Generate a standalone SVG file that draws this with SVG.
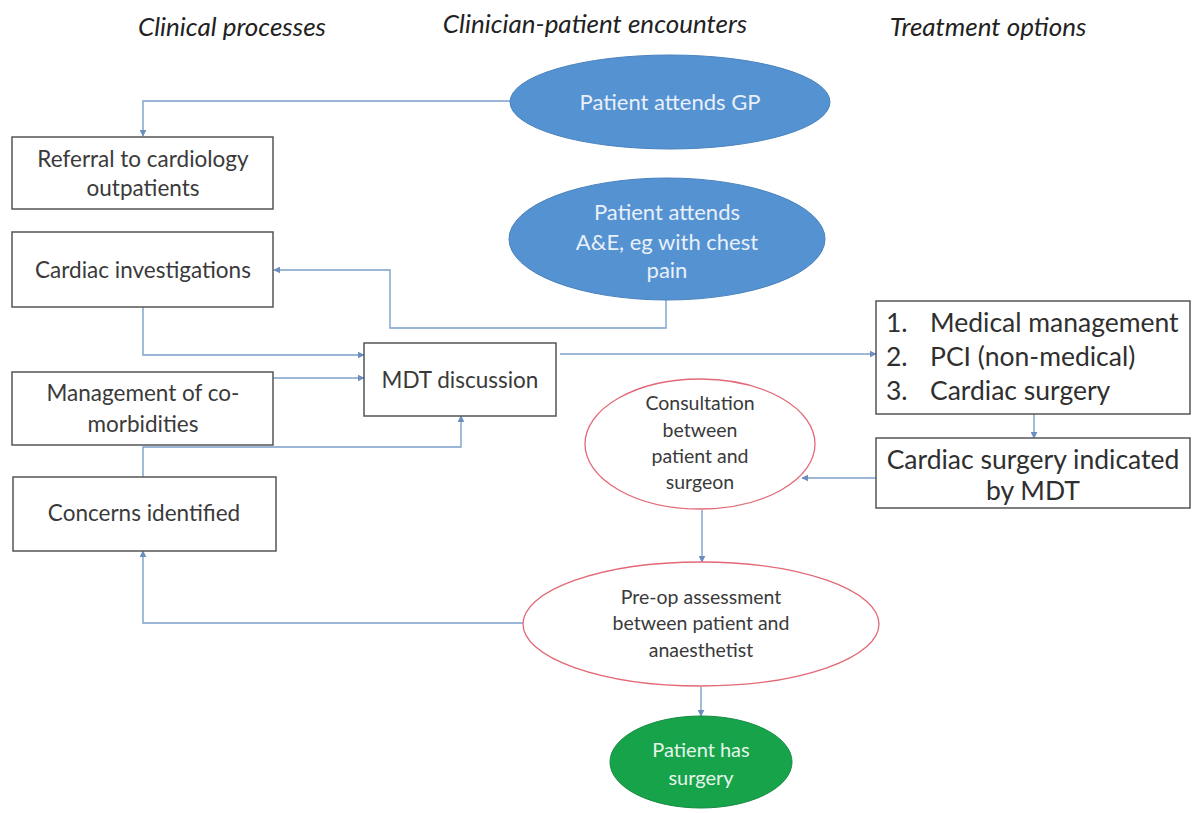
<svg xmlns="http://www.w3.org/2000/svg" width="1192" height="813" viewBox="0 0 1192 813">
  <defs>
    <marker id="arrow" viewBox="0 0 10 10" refX="9" refY="5" markerWidth="7" markerHeight="7" markerUnits="userSpaceOnUse" orient="auto">
      <path d="M0,0 L10,5 L0,10 z" fill="#6a8fbf"/>
    </marker>
    <style>
      .hdr { font-family: Lato, "Open Sans", sans-serif; font-style: italic; font-size: 26px; fill: #222; text-anchor: middle; }
      .box { fill: #fff; stroke: #555; stroke-width: 1.5; }
      .txt { font-family: Lato, "Open Sans", sans-serif; font-size: 22.5px; fill: #3a3a3a; text-anchor: middle; }
      .big { font-family: Lato, "Open Sans", sans-serif; font-size: 26.5px; fill: #2f2f2f; }
      .sm { font-family: Lato, "Open Sans", sans-serif; font-size: 19.5px; fill: #3a3a3a; text-anchor: middle; }
      .blue { fill: #5592d2; stroke: #4a82bd; stroke-width: 1; }
      .red { fill: #fff; stroke: #e36877; stroke-width: 1.3; }
      .green { fill: #16a34a; stroke: #138a3f; stroke-width: 1; }
      .light { font-family: Lato, "Open Sans", sans-serif; font-size: 22px; fill: #e9f0f9; text-anchor: middle; }
      .lightg { font-family: Lato, "Open Sans", sans-serif; font-size: 20px; fill: #e6f6ea; text-anchor: middle; }
      .conn { fill: none; stroke: #7ba0cc; stroke-width: 1.4; }
    </style>
  </defs>

  <rect width="1192" height="813" fill="#fff"/>

  <!-- column headings -->
  <text class="hdr" x="232" y="36">Clinical processes</text>
  <text class="hdr" x="595" y="33">Clinician-patient encounters</text>
  <text class="hdr" x="988" y="36">Treatment options</text>

  <!-- connectors -->
  <g id="connectors">
    <path class="conn" d="M510,101 H143 V136" marker-end="url(#arrow)"/>
    <path class="conn" d="M666,300 V328 H390 V270 H274" marker-end="url(#arrow)"/>
    <path class="conn" d="M143,307 V355 H364" marker-end="url(#arrow)"/>
    <path class="conn" d="M273,378 H364" marker-end="url(#arrow)"/>
    <path class="conn" d="M143,477 V447 H461 V416" marker-end="url(#arrow)"/>
    <path class="conn" d="M560,354 H876" marker-end="url(#arrow)"/>
    <path class="conn" d="M1034,414 V438" marker-end="url(#arrow)"/>
    <path class="conn" d="M876,478 H802" marker-end="url(#arrow)"/>
    <path class="conn" d="M702,510 V562" marker-end="url(#arrow)"/>
    <path class="conn" d="M523,623 H143 V551" marker-end="url(#arrow)"/>
    <path class="conn" d="M701,687 V716" marker-end="url(#arrow)"/>
  </g>

  <!-- clinical process boxes -->
  <g id="referral">
    <rect class="box" x="12" y="137" width="261" height="72"/>
    <text class="txt" x="143" y="167">Referral  to cardiology</text>
    <text class="txt" x="143" y="196">outpatients</text>
  </g>
  <g id="investigations">
    <rect class="box" x="12" y="232" width="261" height="75"/>
    <text class="txt" x="143" y="278">Cardiac investigations</text>
  </g>
  <g id="comorbidities">
    <rect class="box" x="12" y="372" width="261" height="73"/>
    <text class="txt" x="143" y="401">Management  of co-</text>
    <text class="txt" x="143" y="432">morbidities</text>
  </g>
  <g id="concerns">
    <rect class="box" x="13" y="477" width="263" height="74"/>
    <text class="txt" x="144" y="521">Concerns identified</text>
  </g>
  <g id="mdt">
    <rect class="box" x="364" y="343" width="192" height="73"/>
    <text class="txt" x="460" y="388">MDT discussion</text>
  </g>

  <!-- encounters -->
  <g id="gp">
    <ellipse class="blue" cx="670" cy="102" rx="160" ry="47"/>
    <text class="light" x="670" y="110">Patient attends GP</text>
  </g>
  <g id="ae">
    <ellipse class="blue" cx="667" cy="239" rx="158" ry="61"/>
    <text class="light" x="667" y="220">Patient attends</text>
    <text class="light" x="667" y="250">A&amp;E, eg with chest</text>
    <text class="light" x="667" y="278">pain</text>
  </g>
  <g id="consultation">
    <ellipse class="red" cx="700" cy="444" rx="115" ry="65"/>
    <text class="sm" x="700" y="410">Consultation</text>
    <text class="sm" x="700" y="437">between</text>
    <text class="sm" x="700" y="463">patient and</text>
    <text class="sm" x="700" y="489">surgeon</text>
  </g>
  <g id="preop">
    <ellipse class="red" cx="701" cy="624" rx="178" ry="62"/>
    <text class="sm" x="701" y="604">Pre-op assessment</text>
    <text class="sm" x="701" y="630">between patient and</text>
    <text class="sm" x="701" y="657">anaesthetist</text>
  </g>
  <g id="surgery">
    <ellipse class="green" cx="701" cy="762" rx="91" ry="46"/>
    <text class="lightg" x="701" y="757">Patient has</text>
    <text class="lightg" x="701" y="785">surgery</text>
  </g>

  <!-- treatment options -->
  <g id="options">
    <rect class="box" x="876" y="301" width="314" height="113"/>
    <text class="big" x="886" y="332">1.</text>
    <text class="big" x="930" y="332">Medical management</text>
    <text class="big" x="886" y="366">2.</text>
    <text class="big" x="930" y="366">PCI (non-medical)</text>
    <text class="big" x="886" y="400">3.</text>
    <text class="big" x="930" y="400">Cardiac surgery</text>
  </g>
  <g id="indicated">
    <rect class="box" x="876" y="438" width="314" height="70"/>
    <text class="big" x="1033" y="469" text-anchor="middle">Cardiac surgery indicated</text>
    <text class="big" x="1033" y="500" text-anchor="middle">by MDT</text>
  </g>
</svg>
